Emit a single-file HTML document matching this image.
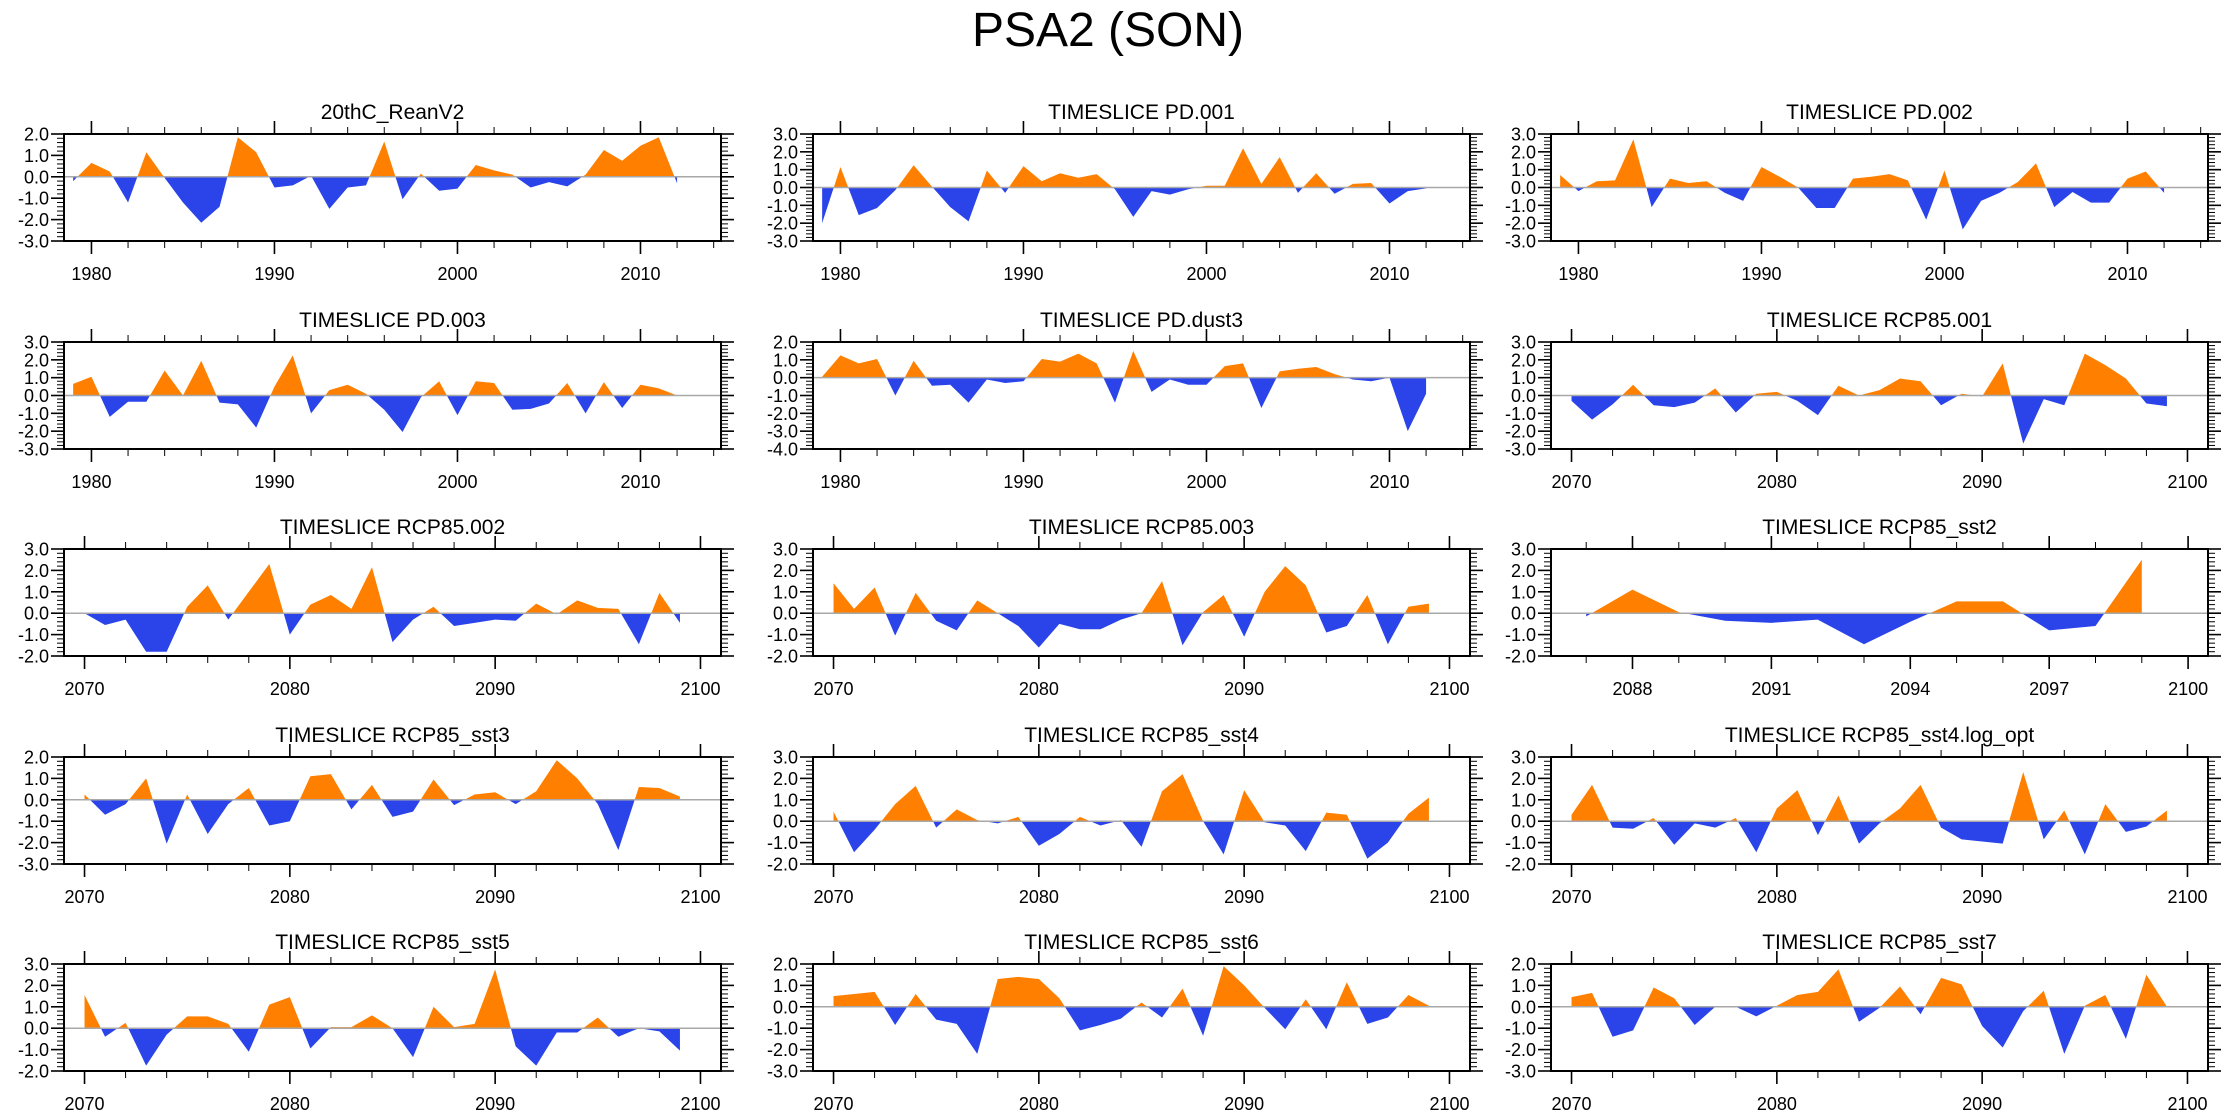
<!DOCTYPE html>
<html><head><meta charset="utf-8">
<style>
html,body{margin:0;padding:0;background:#fff;}
svg{display:block;font-family:"Liberation Sans",Arial,sans-serif;}
</style></head>
<body>
<svg id="chart" width="2230" height="1120" viewBox="0 0 2230 1120" xmlns="http://www.w3.org/2000/svg">
<rect width="2230" height="1120" fill="#fff"/>
<text x="1108" y="46" font-size="48" text-anchor="middle">PSA2 (SON)</text>
<g id="panels"></g>
</svg>
<script>
const titles = ["20thC_ReanV2","TIMESLICE PD.001","TIMESLICE PD.002","TIMESLICE PD.003","TIMESLICE PD.dust3","TIMESLICE RCP85.001","TIMESLICE RCP85.002","TIMESLICE RCP85.003","TIMESLICE RCP85_sst2","TIMESLICE RCP85_sst3","TIMESLICE RCP85_sst4","TIMESLICE RCP85_sst4.log_opt","TIMESLICE RCP85_sst5","TIMESLICE RCP85_sst6","TIMESLICE RCP85_sst7"];
const startYears = [1979,1979,1979,1979,1979,2070,2070,2070,2087,2070,2070,2070,2070,2070,2070];
const yMins = [-3,-3,-3,-3,-4,-3,-2,-2,-2,-3,-2,-2,-2,-3,-3];
const yMaxs = [2,3,3,3,2,3,3,3,3,2,3,3,3,2,2];
const s0 = [-0.2,0.65,0.25,-1.2,1.15,-0.05,-1.2,-2.15,-1.4,1.85,1.15,-0.5,-0.4,0.05,-1.5,-0.5,-0.4,1.65,-1.05,0.15,-0.65,-0.55,0.55,0.3,0.1,-0.5,-0.25,-0.45,0.1,1.25,0.75,1.45,1.85,-0.3];
const s1 = [-2.0,1.15,-1.55,-1.15,-0.15,1.25,0.05,-1.1,-1.9,0.95,-0.3,1.2,0.35,0.8,0.55,0.75,-0.1,-1.65,-0.2,-0.4,-0.1,0.1,0.1,2.2,0.2,1.7,-0.3,0.8,-0.35,0.2,0.25,-0.9,-0.2,-0.05];
const s2 = [0.7,-0.2,0.35,0.4,2.7,-1.1,0.5,0.25,0.35,-0.3,-0.75,1.15,0.6,0.0,-1.15,-1.15,0.5,0.6,0.75,0.4,-1.8,0.95,-2.35,-0.75,-0.3,0.3,1.35,-1.1,-0.25,-0.85,-0.85,0.5,0.9,-0.3];
const s3 = [0.65,1.05,-1.2,-0.35,-0.35,1.4,0.0,1.95,-0.4,-0.5,-1.8,0.5,2.25,-1.0,0.3,0.6,0.1,-0.8,-2.05,-0.1,0.8,-1.1,0.8,0.7,-0.8,-0.75,-0.45,0.7,-1.0,0.75,-0.7,0.6,0.4,0.0];
const s4 = [0.05,1.25,0.8,1.05,-1.0,0.95,-0.45,-0.4,-1.4,-0.1,-0.3,-0.2,1.05,0.9,1.35,0.8,-1.4,1.5,-0.8,-0.1,-0.4,-0.4,0.65,0.8,-1.7,0.35,0.5,0.6,0.2,-0.1,-0.2,0.0,-3.0,-0.9];
const s5 = [-0.3,-1.35,-0.5,0.6,-0.55,-0.65,-0.4,0.4,-0.95,0.1,0.2,-0.3,-1.1,0.55,0.0,0.3,0.95,0.8,-0.55,0.1,-0.05,1.8,-2.7,-0.2,-0.55,2.35,1.7,0.95,-0.45,-0.6];
const s6 = [0.0,-0.55,-0.3,-1.8,-1.8,0.3,1.3,-0.3,1.0,2.3,-1.0,0.4,0.85,0.2,2.15,-1.35,-0.3,0.3,-0.6,-0.45,-0.3,-0.35,0.45,-0.05,0.6,0.25,0.2,-1.45,0.95,-0.45];
const s7 = [1.4,0.2,1.2,-1.05,0.95,-0.35,-0.8,0.6,0.0,-0.6,-1.6,-0.5,-0.75,-0.75,-0.3,0.0,1.5,-1.5,0.05,0.85,-1.1,1.0,2.2,1.3,-0.9,-0.6,0.85,-1.45,0.3,0.45];
const s8 = [-0.15,1.1,0.05,-0.35,-0.45,-0.3,-1.45,-0.4,0.55,0.55,-0.8,-0.6,2.5];
const s9 = [0.25,-0.7,-0.2,1.0,-2.05,0.25,-1.6,-0.2,0.55,-1.2,-1.0,1.1,1.2,-0.45,0.7,-0.8,-0.55,0.95,-0.25,0.25,0.35,-0.2,0.4,1.85,1.0,-0.2,-2.35,0.6,0.55,0.15];
const s10 = [0.45,-1.45,-0.4,0.8,1.65,-0.3,0.55,0.05,-0.1,0.2,-1.15,-0.6,0.2,-0.2,0.05,-1.2,1.4,2.2,0.0,-1.55,1.45,-0.05,-0.2,-1.4,0.4,0.3,-1.75,-1.0,0.35,1.1];
const s11 = [0.3,1.7,-0.3,-0.35,0.15,-1.1,-0.1,-0.3,0.15,-1.45,0.6,1.45,-0.65,1.2,-1.05,-0.1,0.6,1.7,-0.3,-0.85,-0.95,-1.05,2.3,-0.85,0.5,-1.55,0.8,-0.5,-0.25,0.5];
const s12 = [1.55,-0.4,0.25,-1.75,-0.3,0.55,0.55,0.2,-1.1,1.1,1.45,-0.95,0.05,0.05,0.6,0.0,-1.35,1.0,0.05,0.2,2.75,-0.85,-1.75,-0.2,-0.2,0.5,-0.4,0.0,-0.15,-1.05];
const s13 = [0.5,0.6,0.7,-0.85,0.6,-0.6,-0.8,-2.2,1.3,1.4,1.3,0.4,-1.1,-0.85,-0.55,0.2,-0.5,0.85,-1.35,1.9,1.0,-0.05,-1.05,0.35,-1.05,1.15,-0.8,-0.5,0.55,0.05];
const s14 = [0.45,0.65,-1.4,-1.1,0.9,0.4,-0.85,0.0,0.0,-0.45,0.05,0.55,0.7,1.75,-0.7,-0.05,0.95,-0.35,1.35,1.05,-0.9,-1.9,-0.2,0.75,-2.2,0.05,0.55,-1.5,1.5,0.0];
const series = [s0,s1,s2,s3,s4,s5,s6,s7,s8,s9,s10,s11,s12,s13,s14];

const NS = "http://www.w3.org/2000/svg";
const root = document.getElementById("panels");
const colLeft = [64, 813, 1551];
const rowTop = [134, 342, 549, 757, 964];
const PW = 657, PH = 107;
function mk(tag, attrs, parent){
  const e = document.createElementNS(NS, tag);
  for (const k in attrs) e.setAttribute(k, attrs[k]);
  parent.appendChild(e);
  return e;
}
function xRange(start){
  if (start < 2000) return [1978.5, 2014.4];
  if (start === 2087) return [2086.24, 2100.43];
  return [2069, 2101];
}
series.forEach((vals, i) => {
  const L = colLeft[i % 3], T = rowTop[Math.floor(i / 3)];
  const g = mk("g", {}, root);
  
  
  const [x0, x1] = xRange(startYears[i]);
  const ymin = yMins[i], ymax = yMaxs[i];
  const sx = v => L + (v - x0) / (x1 - x0) * PW;
  const sy = v => T + (ymax - v) / (ymax - ymin) * PH;
  const zy = sy(0);
  const defs = mk("defs", {}, g);
  const cpA = mk("clipPath", {id: "ca" + i}, defs);
  mk("rect", {x: L, y: T, width: PW, height: zy - T}, cpA);
  const cpB = mk("clipPath", {id: "cb" + i}, defs);
  mk("rect", {x: L, y: zy, width: PW, height: T + PH - zy}, cpB);
  let d = "M" + sx(startYears[i]) + "," + zy;
  vals.forEach((v, k) => { d += " L" + sx(startYears[i] + k).toFixed(2) + "," + sy(v).toFixed(2); });
  d += " L" + sx(startYears[i] + vals.length - 1) + "," + zy + " Z";
  const pos = mk("path", {d: d, fill: "#ff8000", "clip-path": "url(#ca" + i + ")"}, g);
  
  
  const neg = mk("path", {d: d, fill: "#2a44ea", "clip-path": "url(#cb" + i + ")"}, g);
  
  
  const zl = mk("line", {x1: L, x2: L + PW, y1: zy, y2: zy, stroke: "#a8a8a8", "stroke-width": 1.5}, g);
  
  
  for (let v = ymin; v <= ymax + 1e-6; v += 0.2) {
    const vv = Math.round(v * 10) / 10;
    const major = Math.abs(vv - Math.round(vv)) < 1e-6;
    const len = major ? 13 : 7, y = sy(vv);
    mk("line", {x1: L - len, x2: L, y1: y, y2: y, stroke: "#000", "stroke-width": major ? 1.6 : 1}, g);
    mk("line", {x1: L + PW, x2: L + PW + len, y1: y, y2: y, stroke: "#000", "stroke-width": major ? 1.6 : 1}, g);
    if (major) {
      const t = mk("text", {x: L - 15, y: y + 6.5, "font-size": 18, "text-anchor": "end"}, g);
      t.textContent = vv.toFixed(1);
      
      
    }
  }
  let first = Math.ceil(x0 / 2) * 2, minStep = 2;
  if (startYears[i] === 2087) { minStep = 1; first = Math.ceil(x0); }
  for (let yr = first; yr <= x1; yr += minStep) {
    const major = startYears[i] === 2087 ? (yr - 2088) % 3 === 0 : yr % 10 === 0;
    const len = major ? 13 : 7, x = sx(yr);
    mk("line", {x1: x, x2: x, y1: T - len, y2: T, stroke: "#000", "stroke-width": major ? 1.6 : 1}, g);
    mk("line", {x1: x, x2: x, y1: T + PH, y2: T + PH + len, stroke: "#000", "stroke-width": major ? 1.6 : 1}, g);
    if (major) {
      const t = mk("text", {x: x, y: T + PH + 39, "font-size": 18, "text-anchor": "middle"}, g);
      t.textContent = yr;
      
      
    }
  }
  const fr = mk("rect", {x: L, y: T, width: PW, height: PH, fill: "none", stroke: "#000", "stroke-width": 2}, g);
  
  
  const tt = mk("text", {x: L + PW / 2, y: T - 15, "font-size": 21, "text-anchor": "middle"}, g);
  tt.textContent = titles[i];
  
  
});
</script>
</body></html>
